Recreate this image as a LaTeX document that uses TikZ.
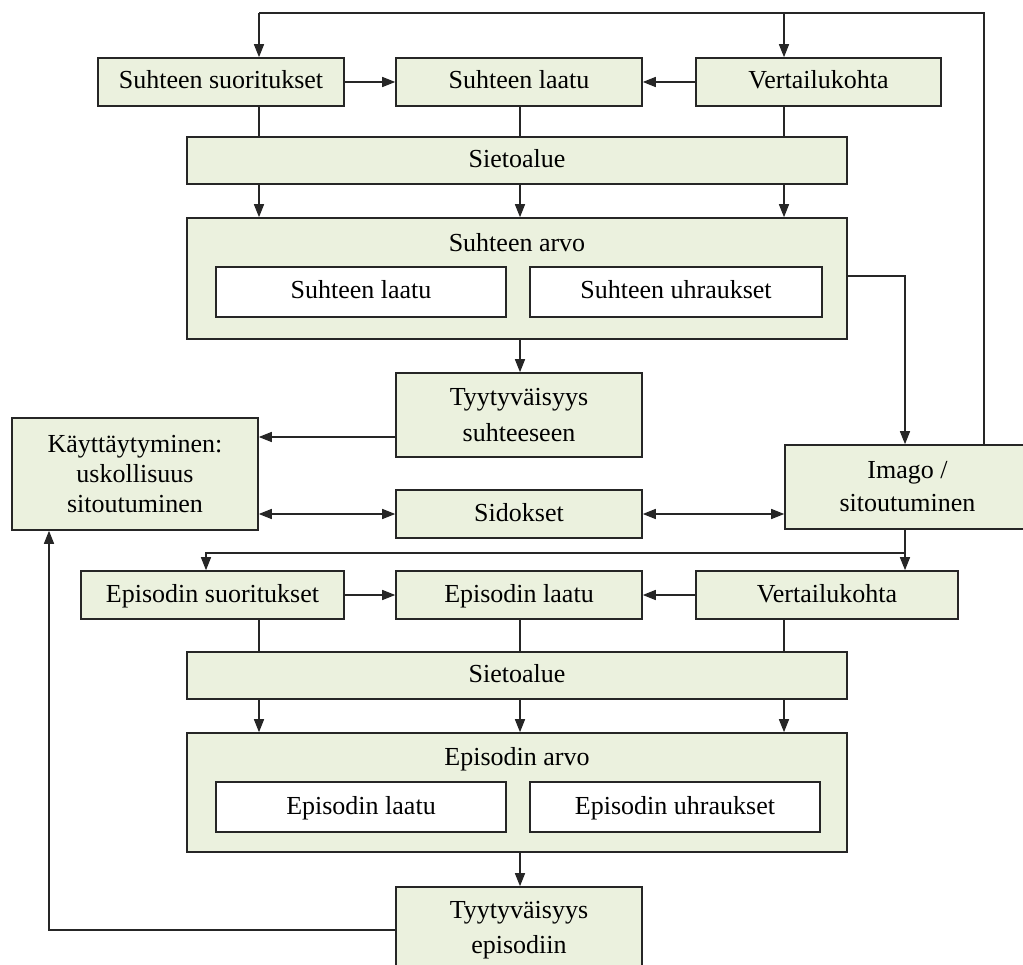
\documentclass[tikz,border=0pt]{standalone}
\usepackage{fontspec}
\setmainfont{Liberation Serif}
\usetikzlibrary{arrows.meta}
\definecolor{boxgreen}{HTML}{EBF1DE}
\definecolor{edge}{HTML}{262626}
\tikzset{
  box/.style={draw=edge, line width=1.6pt, fill=boxgreen, inner sep=2pt, align=center,
    font=\fontsize{26}{33}\selectfont},
  inbox/.style={box, fill=white},
  oneline/.style={text height=19pt, text depth=5pt},
  lbl/.style={font=\fontsize{26}{33}\selectfont, inner sep=0pt},
  conn/.style={draw=edge, line width=1.5pt},
  arr/.style={conn, -{Triangle[length=13pt,width=10pt]}},
  darr/.style={conn, {Triangle[length=13pt,width=10pt]}-{Triangle[length=13pt,width=10pt]}},
}
\begin{document}
\begin{tikzpicture}[x=1pt, y=-1pt]
\useasboundingbox (0,0) rectangle (1023,965);
\clip (0,0) rectangle (1023,965);
\fill[white] (0,0) rectangle (1023,965);

% relationship level
\node[box, oneline, minimum width=246pt, minimum height=48pt] (ss) at (221,82) {Suhteen suoritukset};
\node[box, oneline, minimum width=246pt, minimum height=48pt] (sl) at (519,82) {Suhteen laatu};
\node[box, oneline, minimum width=245pt, minimum height=48pt] (sv) at (818.5,82) {Vertailukohta};
\node[box, oneline, minimum width=660pt, minimum height=47pt] (sa) at (517,160.5) {Sietoalue};
\node[box, minimum width=660pt, minimum height=121pt] (sarvo) at (517,278.5) {};
\node[lbl, oneline] (sarvoT) at (517,245) {Suhteen arvo};
\node[inbox, oneline, minimum width=290pt, minimum height=50pt] (sq) at (361,292) {Suhteen laatu};
\node[inbox, oneline, minimum width=292pt, minimum height=50pt] (su) at (676,292) {Suhteen uhraukset};
\node[box, minimum width=246pt, minimum height=84pt, font=\fontsize{26}{36}\selectfont] (sty) at (519,415) {Tyytyväisyys\\suhteeseen};

% behaviour, bonds and image
\node[box, minimum width=246pt, minimum height=112pt, font=\fontsize{26}{30}\selectfont] (kay) at (135,474) {Käyttäytyminen:\\uskollisuus\\sitoutuminen};
\node[box, oneline, minimum width=246pt, minimum height=48pt] (sid) at (519,514) {Sidokset};
\node[box, minimum width=245pt, minimum height=84pt] (ima) at (907.5,487) {Imago /\\sitoutuminen};

% episode level
\node[box, oneline, minimum width=263pt, minimum height=48pt] (es) at (212.5,595) {Episodin suoritukset};
\node[box, oneline, minimum width=246pt, minimum height=48pt] (el) at (519,595) {Episodin laatu};
\node[box, oneline, minimum width=262pt, minimum height=48pt] (ev) at (827,595) {Vertailukohta};
\node[box, oneline, minimum width=660pt, minimum height=47pt] (ea) at (517,675.5) {Sietoalue};
\node[box, minimum width=660pt, minimum height=119pt] (earvo) at (517,792.5) {};
\node[lbl, oneline] (earvoT) at (517,758) {Episodin arvo};
\node[inbox, oneline, minimum width=290pt, minimum height=50pt] (eq) at (361,807) {Episodin laatu};
\node[inbox, oneline, minimum width=290pt, minimum height=50pt] (eu) at (675,807) {Episodin uhraukset};
\node[box, minimum width=246pt, minimum height=86pt, font=\fontsize{26}{35}\selectfont] (ety) at (519,930) {Tyytyväisyys\\episodiin};

% column positions and bends
\coordinate (colA) at (259,0);
\coordinate (colB) at (520,0);
\coordinate (colC) at (784,0);
\coordinate (topR) at (984,13);
\coordinate (topL) at (259,13);
\coordinate (topM) at (784,13);
\coordinate (rk) at (905,276);
\coordinate (kayIn) at (258,437);
\coordinate (split) at (905,553);
\coordinate (splitL) at (206,553);
\coordinate (fb) at (49,930);

% feedback from image to the top row
\draw[conn] (ima.north -| topR) -- (topR) -- (topL);
\draw[arr] (topL) -- (topL |- ss.north);
\draw[arr] (topM) -- (topM |- sv.north);

% top row
\draw[arr] (ss.east) -- (sl.west);
\draw[arr] (sv.west) -- (sl.east);
\draw[conn] (colA |- ss.south) -- (colA |- sa.north);
\draw[conn] (colB |- sl.south) -- (colB |- sa.north);
\draw[conn] (colC |- sv.south) -- (colC |- sa.north);
\draw[arr] (colA |- sa.south) -- (colA |- sarvo.north);
\draw[arr] (colB |- sa.south) -- (colB |- sarvo.north);
\draw[arr] (colC |- sa.south) -- (colC |- sarvo.north);
\draw[arr] (sarvo.east |- rk) -- (rk) -- (rk |- ima.north);
\draw[arr] (colB |- sarvo.south) -- (colB |- sty.north);

% middle row
\draw[arr] (sty.west |- kayIn) -- (kay.east |- kayIn);
\draw[darr] (kay.east |- sid.west) -- (sid.west);
\draw[darr] (sid.east) -- (ima.west |- sid.east);

% image to the episode row
\draw[conn] (ima.south -| split) -- (split);
\draw[arr] (split) -- (split |- ev.north);
\draw[arr] (split) -- (splitL) -- (splitL |- es.north);

% episode row
\draw[arr] (es.east) -- (el.west);
\draw[arr] (ev.west) -- (el.east);
\draw[conn] (colA |- es.south) -- (colA |- ea.north);
\draw[conn] (colB |- el.south) -- (colB |- ea.north);
\draw[conn] (colC |- ev.south) -- (colC |- ea.north);
\draw[arr] (colA |- ea.south) -- (colA |- earvo.north);
\draw[arr] (colB |- ea.south) -- (colB |- earvo.north);
\draw[arr] (colC |- ea.south) -- (colC |- earvo.north);
\draw[arr] (colB |- earvo.south) -- (colB |- ety.north);

% episode satisfaction back to behaviour
\draw[arr] (ety.west |- fb) -- (fb) -- (fb |- kay.south);
\end{tikzpicture}
\end{document}
